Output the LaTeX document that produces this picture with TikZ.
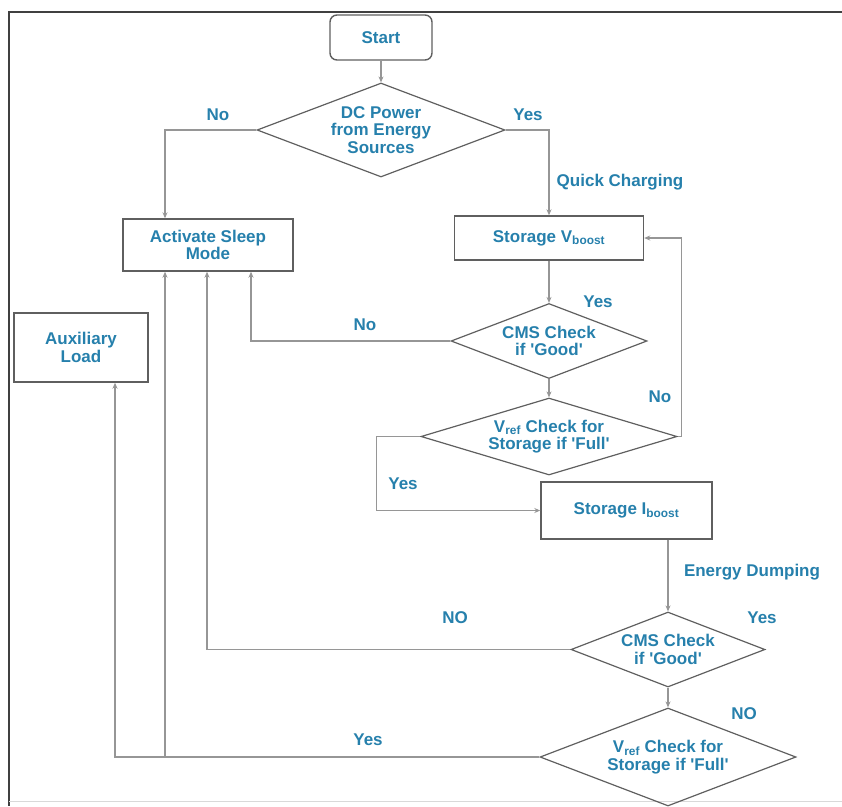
\documentclass[tikz,border=0pt]{standalone}
\usepackage{fontspec}
\setmainfont{Liberation Sans}
\usetikzlibrary{shapes.geometric,arrows.meta,calc}
\definecolor{txtblue}{RGB}{38,128,172}
\definecolor{linegray}{RGB}{150,150,150}
\definecolor{boxgray}{RGB}{95,95,95}
\newcommand{\sq}{\textquotesingle}
\tikzset{
  every node/.style={font=\fontsize{17}{17.5}\selectfont\bfseries, text=txtblue, align=center},
  boxnode/.style={draw=boxgray, line width=1.4pt, rectangle, inner sep=0pt},
  startnode/.style={boxnode, rounded corners=7pt},
  dianode/.style={draw=boxgray, line width=1.2pt, diamond, inner sep=0pt},
  conn/.style={draw=linegray, line width=1.3pt},
  arr/.style={conn, -{Stealth[length=6pt,width=5pt]}},
  lbl/.style={inner sep=1pt}
}
\begin{document}
\begin{tikzpicture}[x=1pt,y=-1pt]
\useasboundingbox (0,0) rectangle (842,806);
% frame
\draw[black!75, line width=1.6pt] (842,12) -- (9,12) -- (9,806);
\draw[black!15, line width=1pt] (9,801) -- (842,801);

% nodes
\node[startnode, minimum width=102pt, minimum height=45pt] (start) at (381,37.5) {Start};
\node[dianode, minimum width=248pt, minimum height=94pt] (dc) at (381,130) {};
\node at (dc) {DC Power\\from Energy\\Sources};
\node[boxnode, minimum width=170pt, minimum height=52pt] (sleep) at (208,245) {Activate Sleep\\Mode};
\node[boxnode, minimum width=189pt, minimum height=44pt] (vb) at (549,238) {Storage V\textsubscript{boost}};
\node[dianode, minimum width=196pt, minimum height=75pt] (cms1) at (549,341) {};
\node at (cms1) {CMS Check\\if \sq Good\sq};
\node[dianode, minimum width=256pt, minimum height=77pt] (vref1) at (549,436.5) {};
\node at (vref1) {V\textsubscript{ref} Check for\\Storage if \sq Full\sq};
\node[boxnode, minimum width=171pt, minimum height=57pt] (ib) at (626.5,510.5) {Storage I\textsubscript{boost}};
\node[dianode, minimum width=194pt, minimum height=75pt] (cms2) at (668,649.5) {};
\node at (cms2) {CMS Check\\if \sq Good\sq};
\node[dianode, minimum width=256pt, minimum height=98pt] (vref2) at (668,757) {};
\node at (vref2) {V\textsubscript{ref} Check for\\Storage if \sq Full\sq};
\node[boxnode, minimum width=134pt, minimum height=69pt] (aux) at (81,347.5) {Auxiliary\\Load};

% connectors
\draw[arr] (start) -- (dc.north);
\draw[arr] (dc.west) -| ([xshift=-43pt]sleep.north);
\draw[arr] (dc.east) -| (vb.north);
\draw[arr] (vb.south) -- (cms1.north);
\draw[arr] (cms1.west) -| ([xshift=43pt]sleep.south);
\draw[arr] (cms1.south) -- (vref1.north);
\draw[arr] (vref1.east) -- ++(4,0) |- (vb.east);
\draw[arr] (vref1.west) -- ++(-44,0) |- (ib.west);
\draw[arr] (ib.south -| cms2.north) -- (cms2.north);
\draw[arr] (cms2.west) -| ([xshift=-1pt]sleep.south);
\draw[arr] (cms2.south) -- (vref2.north);
\draw[arr] (vref2.west) -| ([xshift=-43pt]sleep.south);
\draw[arr] (vref2.west) -| ([xshift=34pt]aux.south);

% labels
\node[lbl] (l1) at (218,115) {No};
\node[lbl] (l2) at (528,115) {Yes};
\node[lbl] (l3) at (620,182) {Quick Charging};
\node[lbl] (l4) at (598,302) {Yes};
\node[lbl] (l5) at (365,325) {No};
\node[lbl] (l6) at (660,397) {No};
\node[lbl] (l7) at (403,484) {Yes};
\node[lbl] (l8) at (752,572) {Energy Dumping};
\node[lbl] (l9) at (455,618) {NO};
\node[lbl] (l10) at (762,618) {Yes};
\node[lbl] (l11) at (744,714) {NO};
\node[lbl] (l12) at (368,740) {Yes};
\end{tikzpicture}
\end{document}
